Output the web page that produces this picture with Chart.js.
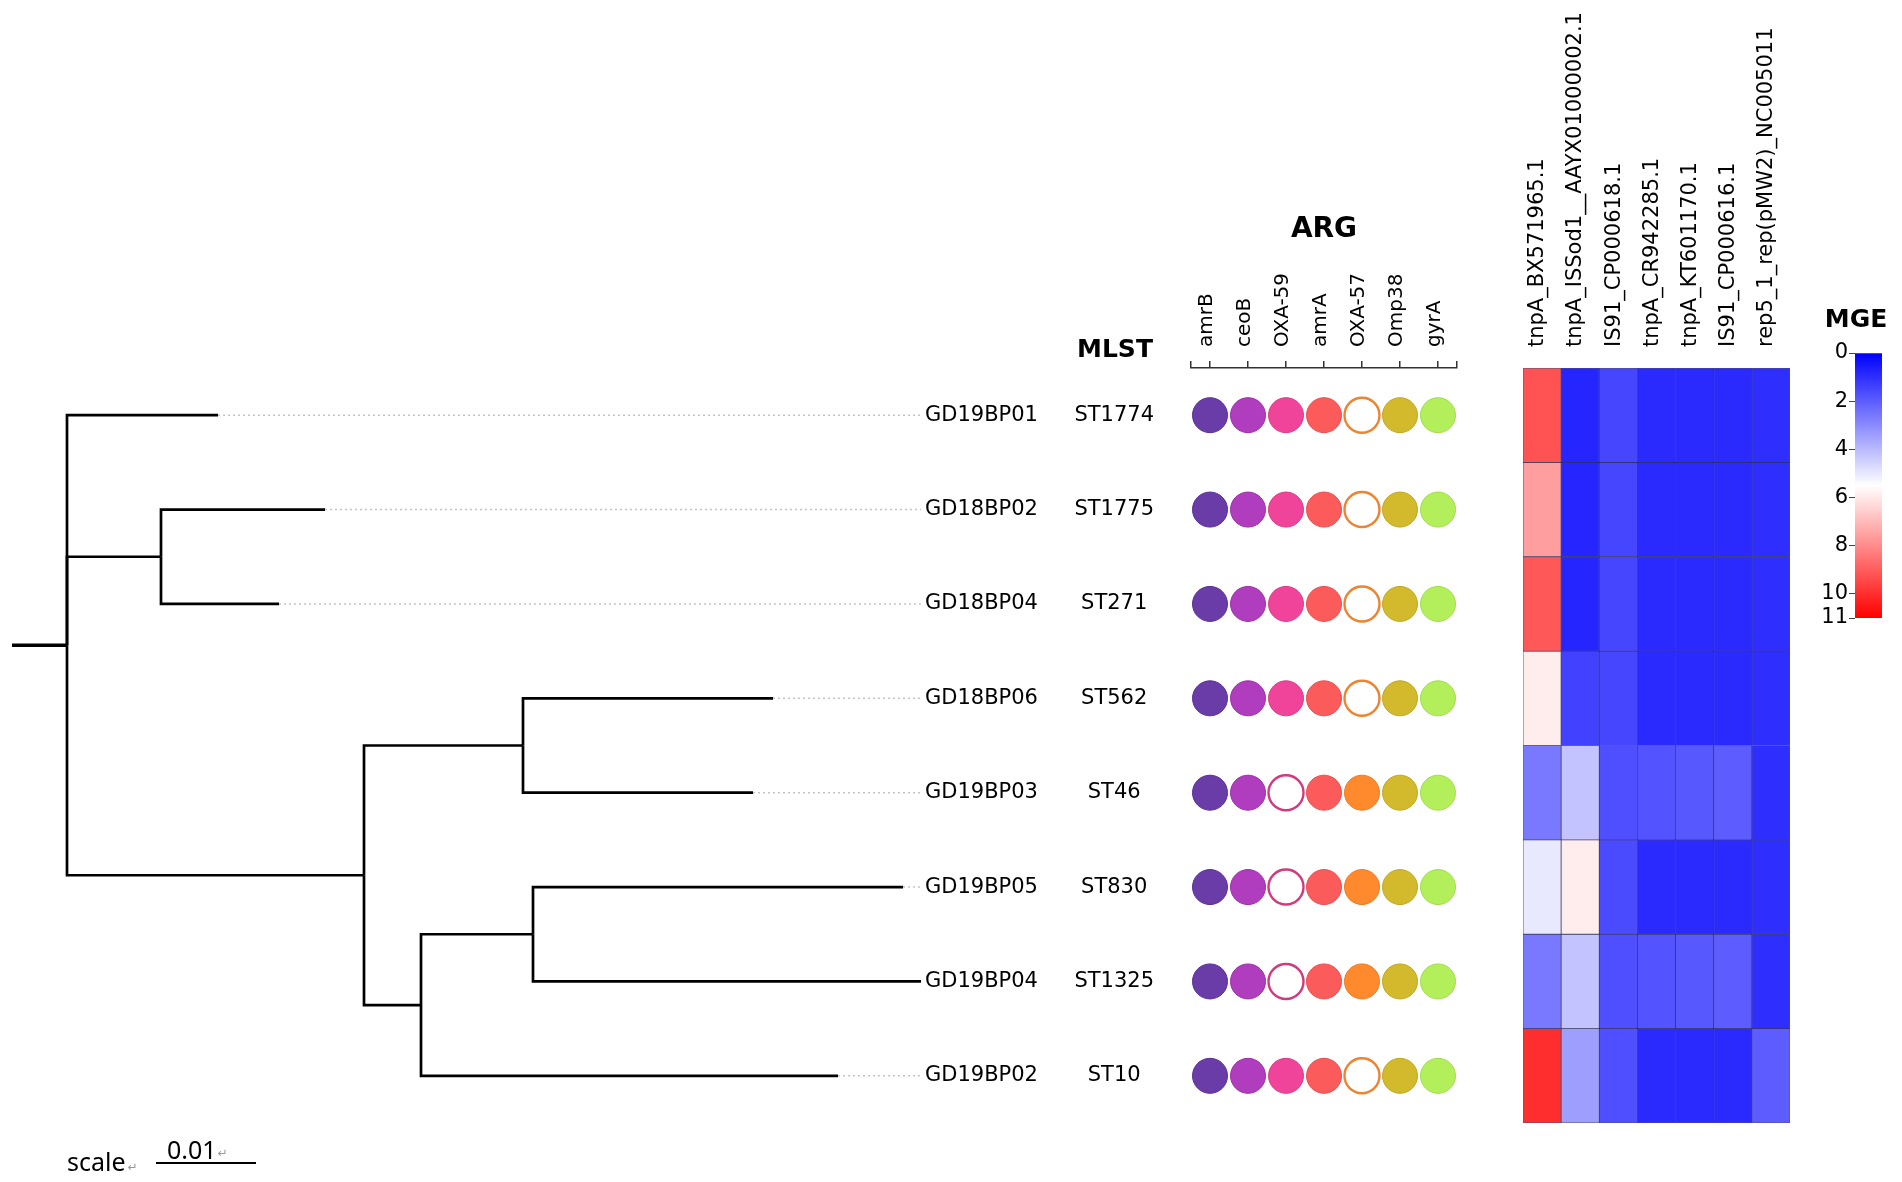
<!DOCTYPE html>
<html>
<head>
<meta charset="utf-8">
<script src="https://cdn.jsdelivr.net/npm/chart.js@4.4.1/dist/chart.umd.min.js"></script>
<style>
html,body{margin:0;padding:0;background:#fff;width:1902px;height:1182px;overflow:hidden;}
.box{position:absolute;top:0;height:1182px;}
.box canvas{display:block;}
</style>
</head>
<body>
<div class="box" style="left:0;width:1060px"><canvas id="tree"></canvas></div>
<div class="box" style="left:1060px;width:420px"><canvas id="arg"></canvas></div>
<div class="box" style="left:1480px;width:330px"><canvas id="mge"></canvas></div>
<div class="box" style="left:1790px;width:112px"><canvas id="cbar"></canvas></div>
<script>
// ---------------- DATA ----------------
const leafNames = ['GD19BP01','GD18BP02','GD18BP04','GD18BP06','GD19BP03','GD19BP05','GD19BP04','GD19BP02'];
const mlst = ['ST1774','ST1775','ST271','ST562','ST46','ST830','ST1325','ST10'];

// tree: node list, parent index, branch length (root entry = root stub)
const nodeNames = ['root','GD19BP01','n1','GD18BP02','GD18BP04','n2','n3','GD18BP06','GD19BP03','n4','n5','GD19BP05','GD19BP04','GD19BP02'];
const nodeParents = [-1,0,0,2,2,0,5,6,6,5,9,10,10,9];
const branchLengths = [0.0055,0.0151,0.0094,0.0164,0.0118,0.0297,0.0159,0.0250,0.0230,0.0057,0.0112,0.0370,0.0388,0.0417];
const scaleBarLength = 0.01;

const argGenes = ['amrB','ceoB','OXA-59','amrA','OXA-57','Omp38','gyrA'];
const argPresence = [
  [1,1,1,1,0,1,1],
  [1,1,1,1,0,1,1],
  [1,1,1,1,0,1,1],
  [1,1,1,1,0,1,1],
  [1,1,0,1,1,1,1],
  [1,1,0,1,1,1,1],
  [1,1,0,1,1,1,1],
  [1,1,1,1,0,1,1]
];

const mgeNames = ['tnpA_BX571965.1','tnpA_ISSod1__AAYX01000002.1','IS91_CP000618.1','tnpA_CR942285.1','tnpA_KT601170.1','IS91_CP000616.1','rep5_1_rep(pMW2)_NC005011'];
const mgeValues = [
  [9.2, 0.8, 1.5, 0.9, 0.9, 0.9, 1.0],
  [7.6, 0.8, 1.5, 0.9, 0.9, 0.9, 1.0],
  [9.1, 0.8, 1.5, 0.9, 0.9, 0.9, 1.0],
  [5.9, 1.4, 1.5, 0.9, 0.9, 0.9, 1.0],
  [2.6, 4.2, 1.7, 1.8, 1.9, 2.0, 1.0],
  [5.0, 5.9, 1.6, 0.9, 0.9, 0.9, 1.0],
  [2.6, 4.2, 1.7, 1.8, 1.9, 2.0, 1.0],
  [10.0, 3.4, 1.7, 0.9, 0.9, 0.9, 2.0]
];
const colorbarTicks = [0,2,4,6,8,10,11];
const colorbarMin = 0;
const colorbarMax = 11;

// ---------------- STYLES ----------------
const argFill = ['#6A3CA8','#B03CBE','#F0449A','#FB5B5B','#FF8A2E','#D3BA2C','#B3EE5B'];
const argEdge = ['#5A2F96','#9C30AA','#DC3A88','#E85050','#EE7A22','#C0A822','#A2DC4E'];
const argAbsentEdge = ['#5A2F96','#9C30AA','#D23A7E','#E85050','#EE8330','#C0A822','#A2DC4E'];

Chart.defaults.font.family = "'DejaVu Sans', sans-serif";
Chart.defaults.color = '#000';
Chart.defaults.animation = false;
Chart.defaults.events = [];
Chart.defaults.plugins.legend.display = false;
Chart.defaults.plugins.tooltip.enabled = false;

function bwr(v){
  const t = (v - colorbarMin) / (colorbarMax - colorbarMin);
  if (t <= 0.5){ const c = Math.round(2*t*255); return `rgb(${c},${c},255)`; }
  const c = Math.round((2-2*t)*255); return `rgb(255,${c},${c})`;
}
const rowTicks = s => { s.ticks = leafNames.map((_, i) => ({value: i})); };
const ROWMIN = -0.5, ROWMAX = leafNames.length - 0.5;

// ---------------- TREE LAYOUT ----------------
const nN = nodeNames.length;
const children = nodeNames.map(() => []);
nodeParents.forEach((p, i) => { if (p >= 0) children[p].push(i); });
const nx = new Array(nN).fill(0);
for (let i = 1; i < nN; i++) nx[i] = nx[nodeParents[i]] + branchLengths[i];
const ny = new Array(nN).fill(0);
(function layoutY(i){
  if (children[i].length === 0){ ny[i] = leafNames.indexOf(nodeNames[i]); return; }
  children[i].forEach(layoutY);
  const ys = children[i].map(c => ny[c]);
  ny[i] = (Math.min(...ys) + Math.max(...ys)) / 2;
})(0);
const leafIdx = nodeNames.map((n, i) => i).filter(i => children[i].length === 0);
const maxTip = Math.max(...leafIdx.map(i => nx[i]));

const treeStyle = {borderColor:'#000', borderWidth:2.7, pointRadius:0, tension:0, fill:false, borderJoinStyle:'miter'};
const treeDatasets = [];
for (let i = 1; i < nN; i++){
  const p = nodeParents[i];
  treeDatasets.push(Object.assign({
    data:[{x:nx[p], y:ny[p]}, {x:nx[p], y:ny[i]}, {x:nx[i], y:ny[i]}]
  }, treeStyle));
}
treeDatasets.push(Object.assign({}, treeStyle, {
  borderWidth:3.4,
  data:[{x:-branchLengths[0], y:ny[0]}, {x:0, y:ny[0]}]
}));
leafIdx.forEach(i => {
  treeDatasets.push({
    data:[{x:nx[i], y:ny[i]}, {x:maxTip, y:ny[i]}],
    borderColor:'#c4c4c4', borderWidth:1.6, borderDash:[2,3], pointRadius:0, tension:0, fill:false
  });
});

const scaleBarPlugin = {
  id:'scaleBar',
  afterDraw(chart){
    const ctx = chart.ctx, xs = chart.scales.x, ca = chart.chartArea;
    const x0 = xs.getPixelForValue(0);
    const len = xs.getPixelForValue(scaleBarLength) - x0;
    const bx = x0 + 89, by = ca.bottom + 40;
    ctx.save();
    ctx.strokeStyle = '#000'; ctx.lineWidth = 2;
    ctx.beginPath(); ctx.moveTo(bx, by); ctx.lineTo(bx + len, by); ctx.stroke();
    ctx.fillStyle = '#000'; ctx.textAlign = 'left'; ctx.textBaseline = 'alphabetic';
    ctx.font = "25px 'Noto Sans'";
    ctx.fillText('scale', x0, ca.bottom + 48);
    const w1 = ctx.measureText('scale').width;
    const lab = String(scaleBarLength);
    ctx.fillText(lab, bx + 11, ca.bottom + 36);
    const w2 = ctx.measureText(lab).width;
    ctx.fillStyle = '#999'; ctx.font = "12px 'DejaVu Sans'";
    ctx.fillText('\u21B5', x0 + w1 + 2, ca.bottom + 48);
    ctx.fillText('\u21B5', bx + 11 + w2 + 1, ca.bottom + 34);
    ctx.restore();
  }
};

new Chart(document.getElementById('tree'), {
  type:'line',
  data:{datasets: treeDatasets},
  options:{
    responsive:true, maintainAspectRatio:false,
    layout:{padding:{left:12, right:0, top:368, bottom:59}},
    scales:{
      x:{type:'linear', min:-branchLengths[0], max:maxTip, display:false},
      y:{type:'linear', position:'right', reverse:true, min:ROWMIN, max:ROWMAX,
         afterBuildTicks: rowTicks,
         afterFit: s => { s.width = 139; },
         ticks:{autoSkip:false, padding:4, font:{size:21}, color:'#000', callback: v => leafNames[v]},
         grid:{display:false, drawTicks:false}, border:{display:false}}
    }
  },
  plugins:[scaleBarPlugin]
});

// ---------------- ARG ----------------
const argPoints = [];
argPresence.forEach((row, i) => row.forEach((p, j) => argPoints.push({x:j, y:i, present:p})));

const argTitles = {
  id:'argTitles',
  afterDraw(chart){
    const ctx = chart.ctx, ca = chart.chartArea;
    ctx.save();
    ctx.fillStyle = '#000'; ctx.textAlign = 'center'; ctx.textBaseline = 'alphabetic';
    ctx.font = "bold 28px 'DejaVu Sans'";
    ctx.fillText('ARG', (ca.left + ca.right) / 2, ca.top - 131);
    ctx.font = "bold 25px 'DejaVu Sans'";
    ctx.fillText('MLST', ca.left - 76, ca.top - 11);
    ctx.restore();
  }
};

new Chart(document.getElementById('arg'), {
  type:'scatter',
  data:{datasets:[{
    data: argPoints,
    pointRadius:17.5,
    pointBackgroundColor: c => c.raw && c.raw.present ? argFill[c.raw.x] : '#ffffff',
    pointBorderColor: c => c.raw && c.raw.present ? argEdge[c.raw.x] : argAbsentEdge[c.raw.x],
    pointBorderWidth: c => c.raw && c.raw.present ? 1 : 2.4
  }]},
  options:{
    responsive:true, maintainAspectRatio:false,
    layout:{padding:{left:0, right:23, top:0, bottom:59}},
    scales:{
      x:{type:'linear', position:'top', min:-0.5, max:argGenes.length - 0.5,
         afterBuildTicks: s => { s.ticks = [-0.5, ...argGenes.map((_, i) => i), argGenes.length - 0.5].map(v => ({value:v})); },
         afterFit: s => { s.height = 368; },
         ticks:{autoSkip:false, minRotation:90, maxRotation:90, padding:14, labelOffset:21, font:{size:20}, color:'#000',
                callback: v => Number.isInteger(v) ? argGenes[v] : ''},
         grid:{display:true, drawOnChartArea:false, drawTicks:true, tickLength:7, color:'#333', lineWidth:1.5},
         border:{display:true, color:'#333', width:1.5}},
      y:{type:'linear', position:'left', reverse:true, min:ROWMIN, max:ROWMAX,
         afterBuildTicks: rowTicks,
         afterFit: s => { s.width = 131; },
         ticks:{autoSkip:false, crossAlign:'center', padding:37, font:{size:21}, color:'#000', callback: v => mlst[v]},
         grid:{display:false, drawTicks:false}, border:{display:false}}
    }
  },
  plugins:[argTitles]
});

// ---------------- MGE heatmap ----------------
new Chart(document.getElementById('mge'), {
  type:'bar',
  data:{
    labels: mgeNames,
    datasets: leafNames.map((_, i) => ({
      data: mgeNames.map(() => [i - 0.5, i + 0.5]),
      backgroundColor: mgeValues[i].map(bwr),
      grouped:false, categoryPercentage:1, barPercentage:1,
      borderWidth:0.8, borderColor:'rgba(10,10,60,0.7)', borderSkipped:false
    }))
  },
  options:{
    responsive:true, maintainAspectRatio:false,
    layout:{padding:{left:43, right:20, top:0, bottom:59}},
    scales:{
      x:{type:'category', position:'top', offset:true,
         afterFit: s => { s.height = 368; },
         ticks:{autoSkip:false, minRotation:90, maxRotation:90, padding:21, labelOffset:21, font:{size:21}, color:'#000'},
         grid:{display:false, drawTicks:false}, border:{display:false}},
      y:{type:'linear', min:ROWMIN, max:ROWMAX, reverse:true, display:false}
    }
  }
});

// ---------------- colour bar ----------------
const cbarTitle = {
  id:'cbarTitle',
  afterDraw(chart){
    const ctx = chart.ctx, ca = chart.chartArea;
    ctx.save();
    ctx.fillStyle = '#000'; ctx.textAlign = 'center'; ctx.textBaseline = 'alphabetic';
    ctx.font = "bold 25px 'DejaVu Sans'";
    ctx.fillText('MGE', ca.left + 1, ca.top - 26);
    ctx.restore();
  }
};
new Chart(document.getElementById('cbar'), {
  type:'bar',
  data:{labels:['MGE'], datasets:[{
    data:[[colorbarMin, colorbarMax]],
    categoryPercentage:1, barPercentage:1, borderWidth:0,
    backgroundColor: c => {
      const ch = c.chart, ys = ch.scales.y;
      if (!ch.chartArea || !ys) return '#fff';
      const g = ch.ctx.createLinearGradient(0, ys.getPixelForValue(colorbarMin), 0, ys.getPixelForValue(colorbarMax));
      g.addColorStop(0, bwr(colorbarMin));
      g.addColorStop(0.5, bwr((colorbarMin + colorbarMax) / 2));
      g.addColorStop(1, bwr(colorbarMax));
      return g;
    }
  }]},
  options:{
    responsive:true, maintainAspectRatio:false,
    layout:{padding:{left:0, right:20, top:353, bottom:564}},
    scales:{
      x:{display:false},
      y:{type:'linear', position:'left', reverse:true, min:colorbarMin, max:colorbarMax,
         afterBuildTicks: s => { s.ticks = colorbarTicks.map(v => ({value:v})); },
         afterFit: s => { s.width = 65; },
         ticks:{autoSkip:false, padding:1, font:{size:21}, color:'#000'},
         grid:{drawOnChartArea:false, drawTicks:true, tickLength:6, color:'#444'},
         border:{display:false}}
    }
  },
  plugins:[cbarTitle]
});
</script>
</body>
</html>
